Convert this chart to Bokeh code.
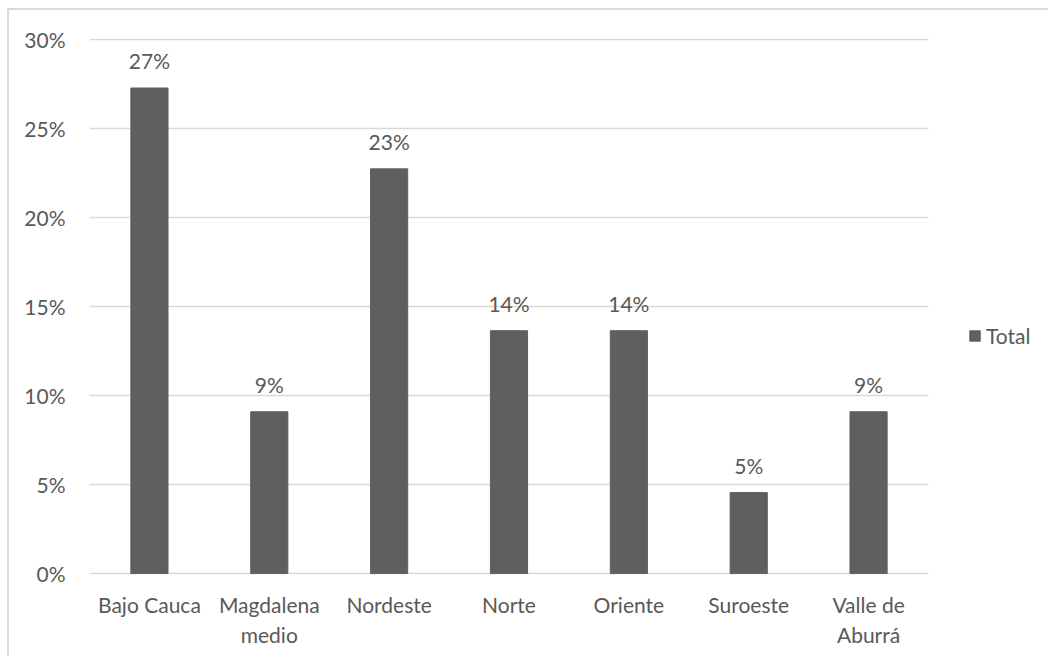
from bokeh.plotting import figure
from bokeh.models import (ColumnDataSource, NumeralTickFormatter,
                          FixedTicker, Legend, LegendItem, Range1d)
from bokeh.core.properties import value
from bokeh.embed import file_html
from bokeh.resources import INLINE

# Share of cases by subregion
regions = ["Bajo Cauca", "Magdalena\nmedio", "Nordeste", "Norte",
           "Oriente", "Suroeste", "Valle de\nAburrá"]
shares = [0.2727, 0.0909, 0.2273, 0.1364, 0.1364, 0.0455, 0.0909]
y_ticks = [0, 0.05, 0.10, 0.15, 0.20, 0.25, 0.30]
series_name = "Total"

FONT = "Lato"
FSIZE = "21px"
TEXT = "#595959"
BAR = "#5f5f5f"
GRID = "#d9d9d9"

idx = list(range(len(regions)))
labels = [f"{round(v * 100):.0f}%" for v in shares]
src = ColumnDataSource(dict(pos=idx, share=shares, label=labels))

# x runs in category slots; the span past the last slot holds the legend
x_lo, x_hi = -0.5, len(regions) - 0.5
p = figure(
    x_range=Range1d(x_lo, x_hi + 1.018),
    y_range=Range1d(-0.0005, 0.3005),
    width=1041, height=648,
    output_backend="svg", toolbar_location=None,
    min_border_left=80, min_border_right=0,
    min_border_top=28, min_border_bottom=84,
)
p.margin = (8, 0, 0, 7)
p.styles = {"border-top": "2px solid #d9d9d9", "border-left": "2px solid #d9d9d9"}

# horizontal gridlines only across the category slots
p.segment(x0=[x_lo] * len(y_ticks), x1=[x_hi] * len(y_ticks),
          y0=y_ticks, y1=y_ticks, line_color=GRID, line_width=1.5)

bars = p.vbar(x="pos", top="share", width=0.31, source=src,
              fill_color=BAR, line_color=BAR)

p.text(x="pos", y="share", text="label", source=src,
       text_align="center", text_baseline="bottom", y_offset=-15,
       text_font=value(FONT), text_font_size=FSIZE, text_color=TEXT)

p.outline_line_color = None
p.xgrid.grid_line_color = None
p.ygrid.grid_line_color = None

p.xaxis.ticker = FixedTicker(ticks=idx)
p.xaxis.major_label_overrides = {i: r for i, r in zip(idx, regions)}
p.yaxis.ticker = FixedTicker(ticks=y_ticks)
p.yaxis.formatter = NumeralTickFormatter(format="0%")
for ax in (p.xaxis, p.yaxis):
    ax.axis_line_color = None
    ax.major_tick_line_color = None
    ax.minor_tick_line_color = None
    ax.major_label_text_font = FONT
    ax.major_label_text_font_size = FSIZE
    ax.major_label_text_color = TEXT
p.yaxis.major_label_standoff = 18
p.xaxis.major_label_standoff = 11

legend = Legend(items=[LegendItem(label=series_name, renderers=[bars])],
                location=(879, 226), border_line_color=None,
                background_fill_alpha=0,
                glyph_width=13, glyph_height=13, label_standoff=5,
                label_text_font=FONT, label_text_font_size=FSIZE,
                label_text_color=TEXT, padding=0, margin=0)
p.add_layout(legend)

open("out.html", "w").write(file_html(p, INLINE))
